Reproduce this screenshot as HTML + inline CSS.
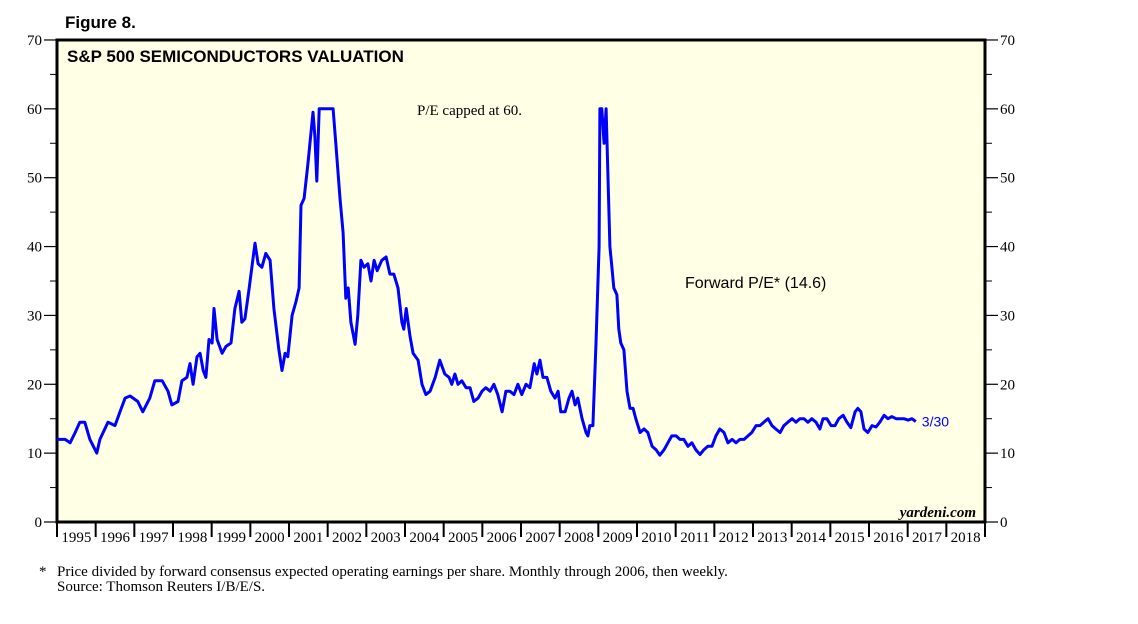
<!DOCTYPE html>
<html><head><meta charset="utf-8"><style>
body{margin:0;background:#fff;width:1138px;height:624px;overflow:hidden}
svg{display:block}
.s{font-family:"Liberation Serif",serif}
.a{font-family:"Liberation Sans",sans-serif}
</style></head><body>
<svg id="c" width="1138" height="624">
<text x="65" y="28" class="a" font-size="17" font-weight="bold">Figure 8.</text>
<rect x="57" y="40" width="928" height="482" fill="#ffffe6" stroke="#000" stroke-width="3"/>
<text x="67" y="62" class="a" font-size="17" font-weight="bold">S&amp;P 500 SEMICONDUCTORS VALUATION</text>
<text x="417" y="115" class="s" font-size="15">P/E capped at 60.</text>
<text x="685" y="288" class="a" font-size="16">Forward P/E* (14.6)</text>
<text x="976" y="517" class="s" font-size="15" font-style="italic" font-weight="bold" text-anchor="end">yardeni.com</text>
<g id="axes"></g>
<path id="line" fill="none" stroke="#0000ff" stroke-width="3" stroke-linejoin="round"/>
<text id="lastlbl" class="a" font-size="14" fill="#0000ff">3/30</text>
<text x="39" y="576" class="s" font-size="15">*</text>
<text x="57" y="576" class="s" font-size="15">Price divided by forward consensus expected operating earnings per share. Monthly through 2006, then weekly.</text>
<text x="57" y="591" class="s" font-size="15">Source: Thomson Reuters I/B/E/S.</text>
</svg>
<script>
const years=[1995,1996,1997,1998,1999,2000,2001,2002,2003,2004,2005,2006,2007,2008,2009,2010,2011,2012,2013,2014,2015,2016,2017,2018];
const yTicks=[0,10,20,30,40,50,60,70];
const dates=[1995.00,1995.21,1995.34,1995.47,1995.59,1995.72,1995.85,1996.03,1996.11,1996.32,1996.50,1996.63,1996.76,1996.89,1997.09,1997.22,1997.40,1997.53,1997.72,1997.87,1997.97,1998.13,1998.23,1998.36,1998.44,1998.52,1998.62,1998.70,1998.78,1998.85,1998.93,1999.01,1999.06,1999.14,1999.27,1999.37,1999.50,1999.60,1999.71,1999.78,1999.86,1999.97,2000.12,2000.20,2000.30,2000.40,2000.51,2000.61,2000.74,2000.82,2000.90,2000.97,2001.08,2001.18,2001.26,2001.31,2001.39,2001.49,2001.62,2001.67,2001.72,2001.78,2001.85,2002.14,2002.21,2002.32,2002.40,2002.47,2002.53,2002.60,2002.71,2002.78,2002.86,2002.94,2003.04,2003.12,2003.20,2003.28,2003.40,2003.51,2003.61,2003.71,2003.82,2003.92,2003.97,2004.03,2004.13,2004.21,2004.34,2004.44,2004.54,2004.65,2004.78,2004.90,2005.03,2005.14,2005.21,2005.29,2005.37,2005.47,2005.58,2005.68,2005.78,2005.89,2005.99,2006.09,2006.20,2006.30,2006.40,2006.51,2006.61,2006.71,2006.82,2006.92,2007.02,2007.13,2007.23,2007.34,2007.41,2007.49,2007.57,2007.67,2007.77,2007.88,2007.96,2008.03,2008.14,2008.24,2008.32,2008.40,2008.47,2008.58,2008.68,2008.73,2008.78,2008.86,2008.94,2009.02,2009.04,2009.09,2009.15,2009.20,2009.25,2009.30,2009.35,2009.40,2009.48,2009.53,2009.58,2009.66,2009.74,2009.82,2009.90,2009.97,2010.08,2010.18,2010.28,2010.39,2010.49,2010.59,2010.70,2010.80,2010.90,2011.01,2011.11,2011.21,2011.32,2011.42,2011.52,2011.63,2011.73,2011.83,2011.94,2012.04,2012.14,2012.25,2012.35,2012.46,2012.56,2012.66,2012.77,2012.87,2012.97,2013.08,2013.18,2013.28,2013.39,2013.49,2013.59,2013.70,2013.80,2013.90,2014.01,2014.11,2014.21,2014.32,2014.42,2014.52,2014.63,2014.73,2014.81,2014.91,2015.02,2015.12,2015.22,2015.33,2015.43,2015.53,2015.64,2015.71,2015.79,2015.87,2015.97,2016.08,2016.18,2016.28,2016.39,2016.49,2016.59,2016.70,2016.80,2016.90,2017.01,2017.11,2017.21];
const values=[12,12,11.5,13,14.5,14.5,12,10,12,14.5,14,16,18,18.3,17.5,16,18,20.5,20.5,19,17,17.5,20.5,21,23,20,24,24.5,22,21,26.5,26,31,26.5,24.5,25.5,26,31,33.5,29,29.5,34,40.5,37.5,37,39,38,31,25,22,24.5,24,30,32,34,46,47,52,59.5,56,49.5,60,60,60,55,47,42,32.5,34,29,25.8,30,38,37,37.5,35,38,36.5,38,38.5,36,36,34,29,28,31,27,24.5,23.5,20,18.5,19,21,23.5,21.5,21,20,21.5,20,20.5,19.5,19.5,17.5,18,19,19.5,19,20,18.5,16,19,19,18.5,20,18.5,20,19.5,23,21.5,23.5,21,21,19,18,19,16,16,18,19,17,18,15,13,12.5,14,14,26,40,60,60,55,60,50,40,37,34,33,28,26,25,19,16.5,16.5,15,13,13.5,13,11,10.5,9.7,10.5,11.5,12.5,12.5,12,12,11,11.5,10.5,9.8,10.5,11,11,12.5,13.5,13,11.5,12,11.5,12,12,12.5,13,14,14,14.5,15,14,13.5,13,14,14.5,15,14.5,15,15,14.5,15,14.5,13.5,15,15,14,14,15,15.5,14.5,13.7,16,16.5,16,13.5,13,14,13.8,14.5,15.5,15,15.3,15,15,15,14.8,15,14.6];
const X=d=>57+(d-1995)*38.667;
const Y=v=>522-v*6.886;
const ns="http://www.w3.org/2000/svg";
const ax=document.getElementById('axes');
function mk(t,a){const e=document.createElementNS(ns,t);for(const k in a)e.setAttribute(k,a[k]);ax.appendChild(e);return e;}
yTicks.forEach(v=>{
  const y=Y(v);
  let l=mk('line',{x1:44,x2:57,y1:y,y2:y,stroke:'#000','stroke-width':1.2});
  
  
  let r=mk('line',{x1:985,x2:998,y1:y,y2:y,stroke:'#000','stroke-width':1.2});
  
  
  let t=mk('text',{x:42,y:y+5,'text-anchor':'end','class':'s','font-size':15});
  t.textContent=v;
  
  
  let t2=mk('text',{x:1000,y:y+5,'class':'s','font-size':15});
  t2.textContent=v;
  
  
  if(v<70){
    const ym=Y(v+5);
    let m=mk('line',{x1:50,x2:57,y1:ym,y2:ym,stroke:'#000','stroke-width':1});
    
    
    let m2=mk('line',{x1:985,x2:992,y1:ym,y2:ym,stroke:'#000','stroke-width':1});
    
    
  }
});
years.concat([2019]).forEach(yr=>{
  const x=X(yr);
  let l=mk('line',{x1:x,x2:x,y1:522,y2:537,stroke:'#000','stroke-width':2});
  
  
});
years.forEach(yr=>{
  let t=mk('text',{x:X(yr+0.5),y:542,'text-anchor':'middle','class':'s','font-size':15});
  t.textContent=yr;
  
  
});
let d='';
dates.forEach((dt,i)=>{d+=(i?'L':'M')+X(dt).toFixed(1)+','+Y(Math.min(values[i],60)).toFixed(1);});
document.getElementById('line').setAttribute('d',d);
const lb=document.getElementById('lastlbl');
lb.setAttribute('x',X(dates[dates.length-1])+6);
lb.setAttribute('y',Y(values[values.length-1])+5);
</script>
</body></html>
